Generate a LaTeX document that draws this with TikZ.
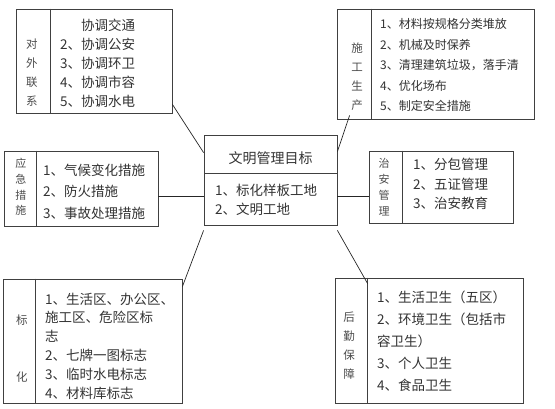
\documentclass[tikz,border=0pt]{standalone}
\usepackage{fontspec}
\newfontfamily\cjk{Noto Sans CJK SC}
\usetikzlibrary{positioning}

\begin{document}
\begin{tikzpicture}[x=1pt, y=-1pt,
    grpbox/.style={rectangle, draw=black!75, line width=0.8pt, inner sep=0pt},
    lblcol/.style={font=\cjk\fontsize{11.5}{19}\selectfont, text=black!70,
                   align=center, inner sep=0pt},
    itemcol/.style={font=\cjk\fontsize{13.5}{19}\selectfont, text=black!80,
                    align=left, anchor=west, inner sep=0pt},
    link/.style={draw=black!85, line width=0.7pt}
  ]
    \useasboundingbox (0,0) rectangle (555,409);

    % centre
    \node[grpbox, minimum width=133pt, minimum height=38pt] (goal) at (270.5,154) {};
    \node[font=\cjk\fontsize{14}{19}\selectfont, text=black!80] (goaltitle) at (270.5,158) {文明管理目标};
    \node[grpbox, minimum width=133pt, minimum height=52pt] (goalitems) at (270.5,199) {};
    \node[itemcol] (goaltxt) at (215,199.5) {1、标化样板工地\\2、文明工地};

    % top left
    \node[grpbox, minimum width=156pt, minimum height=104pt] (tl) at (94,61) {};
    \draw[grpbox] ([xshift=35pt]tl.north west) -- ([xshift=35pt]tl.south west);
    \node[lblcol] (tllbl) at (32,73) {对\\外\\联\\系};
    \node[itemcol] (tltxt) at (60,63.5) {\phantom{1、}协调交通\\2、协调公安\\3、协调环卫\\4、协调市容\\5、协调水电};

    % top right
    \node[grpbox, minimum width=197pt, minimum height=110pt] (tr) at (435.5,64) {};
    \draw[grpbox] ([xshift=35pt]tr.north west) -- ([xshift=35pt]tr.south west);
    \node[lblcol] (trlbl) at (357,77) {施\\工\\生\\产};
    \node[itemcol, font=\cjk\fontsize{12}{20.5}\selectfont] (trtxt) at (380,65)
      {1、材料按规格分类堆放\\2、机械及时保养\\3、清理建筑垃圾，落手清\\4、优化场布\\5、制定安全措施};

    % middle left
    \node[grpbox, minimum width=154pt, minimum height=75pt] (ml) at (81,188.5) {};
    \draw[grpbox] ([xshift=33pt]ml.north west) -- ([xshift=33pt]ml.south west);
    \node[lblcol, font=\cjk\fontsize{11}{15.7}\selectfont] (mllbl) at (21,187) {应\\急\\措\\施};
    \node[itemcol, font=\cjk\fontsize{13.5}{21.5}\selectfont] (mltxt) at (43,191.5)
      {1、气候变化措施\\2、防火措施\\3、事故处理措施};

    % middle right
    \node[grpbox, minimum width=144pt, minimum height=72pt] (mr) at (441,187) {};
    \draw[grpbox] ([xshift=34pt]mr.north west) -- ([xshift=34pt]mr.south west);
    \node[lblcol, font=\cjk\fontsize{11}{16}\selectfont] (mrlbl) at (384,187) {治\\安\\管\\理};
    \node[itemcol, font=\cjk\fontsize{13.5}{19.5}\selectfont] (mrtxt) at (413,184)
      {1、分包管理\\2、五证管理\\3、治安教育};

    % bottom left
    \node[grpbox, minimum width=179pt, minimum height=124pt] (bl) at (92.5,341) {};
    \draw[grpbox] ([xshift=33pt]bl.north west) -- ([xshift=33pt]bl.south west);
    \node[lblcol, font=\cjk\fontsize{11.5}{57}\selectfont] (bllbl) at (22,348.5) {标\\化};
    \node[itemcol, font=\cjk\fontsize{13.5}{18.8}\selectfont] (bltxt) at (45,346)
      {1、生活区、办公区、\\施工区、危险区标\\志\\2、七牌一图标志\\3、临时水电标志\\4、材料库标志};

    % bottom right
    \node[grpbox, minimum width=188pt, minimum height=125pt] (br) at (429,340.5) {};
    \draw[grpbox] ([xshift=33pt]br.north west) -- ([xshift=33pt]br.south west);
    \node[lblcol] (brlbl) at (349,346) {后\\勤\\保\\障};
    \node[itemcol, font=\cjk\fontsize{13.5}{22}\selectfont] (brtxt) at (377,341)
      {1、生活卫生（五区）\\2、环境卫生（包括市\\容卫生）\\3、个人卫生\\4、食品卫生};

    % links
    \draw[link] ([yshift=9pt]tl.south east) -- ([yshift=-18pt]goal.north west);
    \draw[link] ([xshift=13pt,yshift=4pt]tr.south west) -- ([yshift=-17pt]goal.north east);
    \draw[link] ([yshift=3pt]goalitems.west) -- ([yshift=3pt]goalitems.west -| ml.east);
    \draw[link] ([yshift=3pt]goalitems.east) -- ([yshift=3pt]goalitems.east -| mr.west);
    \draw[link] ([yshift=-5pt]goalitems.south west) -- ([yshift=-8pt]bl.north east);
    \draw[link] ([yshift=-5pt]goalitems.south east) -- ([xshift=33pt,yshift=-6pt]br.north west);
\end{tikzpicture}
\end{document}
